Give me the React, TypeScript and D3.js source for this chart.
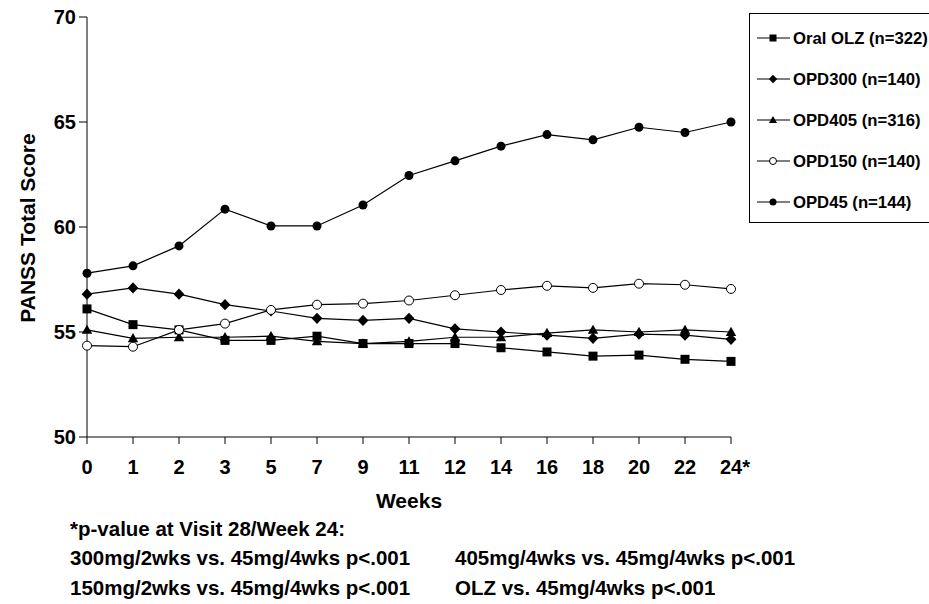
import * as d3 from "d3";
import React from "react";

const weeks = ["0", "1", "2", "3", "5", "7", "9", "11", "12", "14", "16", "18", "20", "22", "24*"];

const olz = [56.1, 55.35, 55.1, 54.6, 54.6, 54.8, 54.45, 54.45, 54.45, 54.25, 54.05, 53.85, 53.9, 53.7, 53.6];
const opd300 = [56.8, 57.1, 56.8, 56.3, 56.0, 55.65, 55.55, 55.65, 55.15, 55.0, 54.85, 54.7, 54.9, 54.85, 54.65];
const opd405 = [55.1, 54.7, 54.75, 54.75, 54.8, 54.55, 54.45, 54.55, 54.75, 54.75, 54.95, 55.1, 55.0, 55.1, 55.0];
const opd150 = [54.35, 54.3, 55.1, 55.4, 56.05, 56.3, 56.35, 56.5, 56.75, 57.0, 57.2, 57.1, 57.3, 57.25, 57.05];
const opd45 = [57.8, 58.15, 59.1, 60.85, 60.05, 60.05, 61.05, 62.45, 63.15, 63.85, 64.4, 64.15, 64.75, 64.5, 65.0];

const seriesNames = ["Oral OLZ (n=322)", "OPD300 (n=140)", "OPD405 (n=316)", "OPD150 (n=140)", "OPD45 (n=144)"];
const yTicks = [50, 55, 60, 65, 70];

const footnotes = [
  "*p-value at Visit 28/Week 24:",
  "300mg/2wks vs. 45mg/4wks p<.001",
  "150mg/2wks vs. 45mg/4wks p<.001",
];
const footnotesRight = ["405mg/4wks vs. 45mg/4wks p<.001", "OLZ vs. 45mg/4wks p<.001"];

const FONT = "Arial, 'Liberation Sans', sans-serif";

// marker drawing, shape by series index
const Marker = ({ kind, x, y, s }: { kind: number; x: number; y: number; s: number }) => {
  if (kind === 0) {
    return <rect x={x - s / 2} y={y - s / 2} width={s} height={s} fill="#000" />;
  }
  if (kind === 1) {
    const h = s * 0.6;
    const v = s * 0.62;
    return <path d={`M${x},${y - v}L${x + h},${y}L${x},${y + v}L${x - h},${y}Z`} fill="#000" />;
  }
  if (kind === 2) {
    const h = s * 0.58;
    return <path d={`M${x},${y - h}L${x + h},${y + h * 0.75}L${x - h},${y + h * 0.75}Z`} fill="#000" />;
  }
  if (kind === 3) {
    return <circle cx={x} cy={y} r={s / 2} fill="#fff" stroke="#000" strokeWidth={1} />;
  }
  return <circle cx={x} cy={y} r={s / 2} fill="#000" />;
};

export default function App() {
  const series = [olz, opd300, opd405, opd150, opd45];

  const x = d3.scalePoint<string>().domain(weeks).range([87, 731]).padding(0);
  const y = d3.scaleLinear().domain([50, 70]).range([437, 17]);

  const line = d3
    .line<number>()
    .x((_, i) => x(weeks[i]) as number)
    .y((d) => y(d));

  return (
    <svg
      width={929}
      height={604}
      style={{ position: "absolute", left: 0, top: 0, background: "#fff" }}
      fontFamily={FONT}
      fontWeight="bold"
    >
      <rect width={929} height={604} fill="#fff" />

      {/* y axis */}
      <line x1={87} x2={87} y1={y(70)} y2={y(50)} stroke="#000" />
      {yTicks.map((t) => (
        <g key={t}>
          <line x1={79} x2={87} y1={y(t)} y2={y(t)} stroke="#000" />
          <text x={76} y={y(t)} textAnchor="end" dominantBaseline="central" fontSize={20}>
            {t}
          </text>
        </g>
      ))}

      {/* x axis */}
      <line x1={87} x2={731} y1={y(50)} y2={y(50)} stroke="#000" />
      {weeks.map((w) => (
        <g key={w}>
          <line x1={x(w)} x2={x(w)} y1={y(50)} y2={y(50) + 7} stroke="#000" />
          <text
            x={(x(w) as number) + (w === "24*" ? 4 : 0)}
            y={467}
            textAnchor="middle"
            dominantBaseline="central"
            fontSize={20}
          >
            {w}
          </text>
        </g>
      ))}

      <text x={409} y={500} textAnchor="middle" dominantBaseline="central" fontSize={21}>
        Weeks
      </text>
      <text
        transform="translate(27,228) rotate(-90)"
        textAnchor="middle"
        dominantBaseline="central"
        fontSize={21}
      >
        PANSS Total Score
      </text>

      {/* series */}
      {series.map((s, k) => (
        <g key={k}>
          <path d={line(s) ?? ""} fill="none" stroke="#000" strokeWidth={1.2} />
          {s.map((v, i) => (
            <Marker key={i} kind={k} x={x(weeks[i]) as number} y={y(v)} s={9} />
          ))}
        </g>
      ))}

      {/* legend */}
      <rect x={749.5} y={13.5} width={220} height={209} fill="#fff" stroke="#000" />
      {seriesNames.map((name, k) => {
        const ly = 38 + k * 41;
        return (
          <g key={name}>
            <line x1={757} x2={790} y1={ly} y2={ly} stroke="#000" strokeWidth={1.2} />
            <Marker kind={k} x={773} y={ly} s={7} />
            <text x={793} y={ly} dominantBaseline="central" fontSize={16.7}>
              {name}
            </text>
          </g>
        );
      })}

      {/* footnotes */}
      {footnotes.map((f, i) => (
        <text key={f} x={70} y={528 + i * 29.5} dominantBaseline="central" fontSize={20.5}>
          {f}
        </text>
      ))}
      {footnotesRight.map((f, i) => (
        <text key={f} x={455} y={557.5 + i * 29.5} dominantBaseline="central" fontSize={20.5}>
          {f}
        </text>
      ))}
    </svg>
  );
}
